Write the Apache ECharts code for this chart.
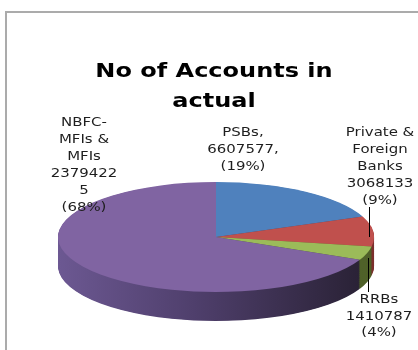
<!DOCTYPE html>
<html><head><meta charset="utf-8">
<script src="https://cdn.jsdelivr.net/npm/echarts@6/dist/echarts.min.js"></script>
<style>
html,body{margin:0;padding:0;background:#fff;overflow:hidden;width:418px;height:350px;}
#pie{position:absolute;left:0;top:0;width:418px;height:1000px;transform-origin:0 0;}
#main{position:absolute;left:0;top:0;width:418px;height:350px;pointer-events:none;}
</style></head><body>
<div id="pie"></div><div id="main"></div>
<script>
// ---- data ----
const categories = ['PSBs', 'Private & Foreign Banks', 'RRBs', 'NBFC-MFIs & MFIs'];
const values = [6607577, 3068133, 1410787, 23794225];
const labelNameLines = [['PSBs'], ['Private &', 'Foreign', 'Banks'], ['RRBs'], ['NBFC-', 'MFIs &', 'MFIs']];
const labelSeparators = [',', '', '', ''];
const titleLines = ['No of Accounts in', 'actual'];

// ---- style ----
const topColors = ['#4F81BD', '#C0504D', '#9BBB59', '#8064A2'];
const sideColors = ['#2f527c', '#7d302e', '#4f6129', null];
const FONT = '"DejaVu Sans", sans-serif';
const CX = 216, CY = 237, RX = 158, RY = 55, DEPTH = 29, NL = 44;
const k = RY / RX;

const pieEl = document.getElementById('pie');
pieEl.style.transform = 'scaleY(' + k + ')';
const pie = echarts.init(pieEl, null, { renderer: 'svg' });

function purpleSide() {
  return new echarts.graphic.LinearGradient(0, 0, 1, 0, [
    { offset: 0, color: '#6c5892' },
    { offset: 0.45, color: '#4f3f6c' },
    { offset: 1, color: '#2a2236' }
  ]);
}

function layer(cy, side) {
  return {
    type: 'pie',
    center: [CX, cy / k],
    radius: [0, RX],
    startAngle: 90,
    clockwise: true,
    silent: true,
    animation: false,
    label: { show: false },
    labelLine: { show: false },
    emphasis: { disabled: true },
    itemStyle: { borderWidth: 0 },
    data: categories.map((c, i) => ({
      name: c,
      value: values[i],
      itemStyle: { color: side ? (sideColors[i] || purpleSide()) : topColors[i], borderWidth: 0 }
    }))
  };
}

const series = [];
for (let i = NL; i >= 1; i--) series.push(layer(CY + i * DEPTH / NL, true));
series.push(layer(CY, false));
pie.setOption({ animation: false, series: series });

// ---- texts ----
const main = echarts.init(document.getElementById('main'));
const total = values.reduce((a, b) => a + b, 0);
function wrapNum(s, n) {
  const out = [];
  for (let i = 0; i < s.length; i += n) out.push(s.slice(i, i + n));
  return out;
}
const labelPos = [[243, 124.5], [380, 124.5], [379, 291.5], [84, 114.5]];
const graphics = [
  { type: 'rect', shape: { x: 6, y: 12, width: 460, height: 400 }, style: { fill: null, stroke: '#ababab', lineWidth: 2 } }
];
graphics.push({
  type: 'text', x: 214, y: 57, scaleX: 1.2,
  style: { text: titleLines.join('\n'), font: 'bold 20px ' + FONT, fill: '#000', align: 'center', verticalAlign: 'top', lineHeight: 30 }
});
categories.forEach((c, i) => {
  const sep = labelSeparators[i];
  const lines = labelNameLines[i].slice();
  lines[lines.length - 1] += sep;
  const vLines = wrapNum(String(values[i]), 7);
  vLines[vLines.length - 1] += sep;
  const pct = '(' + Math.round(values[i] / total * 100) + '%)';
  const txt = lines.concat(vLines, [pct]).join('\n');
  graphics.push({
    type: 'text', x: labelPos[i][0], y: labelPos[i][1], scaleX: 1.15,
    style: { text: txt, font: '13px ' + FONT, fill: '#1e1e1e', align: 'center', verticalAlign: 'top', lineHeight: i === 2 ? 16.5 : 17 }
  });
});
graphics.push({ type: 'line', shape: { x1: 369.5, y1: 207, x2: 369.5, y2: 237 }, style: { stroke: '#000', lineWidth: 1 } });
graphics.push({ type: 'line', shape: { x1: 368.5, y1: 258, x2: 368.5, y2: 292 }, style: { stroke: '#000', lineWidth: 1 } });
main.setOption({ animation: false, graphic: graphics });
</script></body></html>
